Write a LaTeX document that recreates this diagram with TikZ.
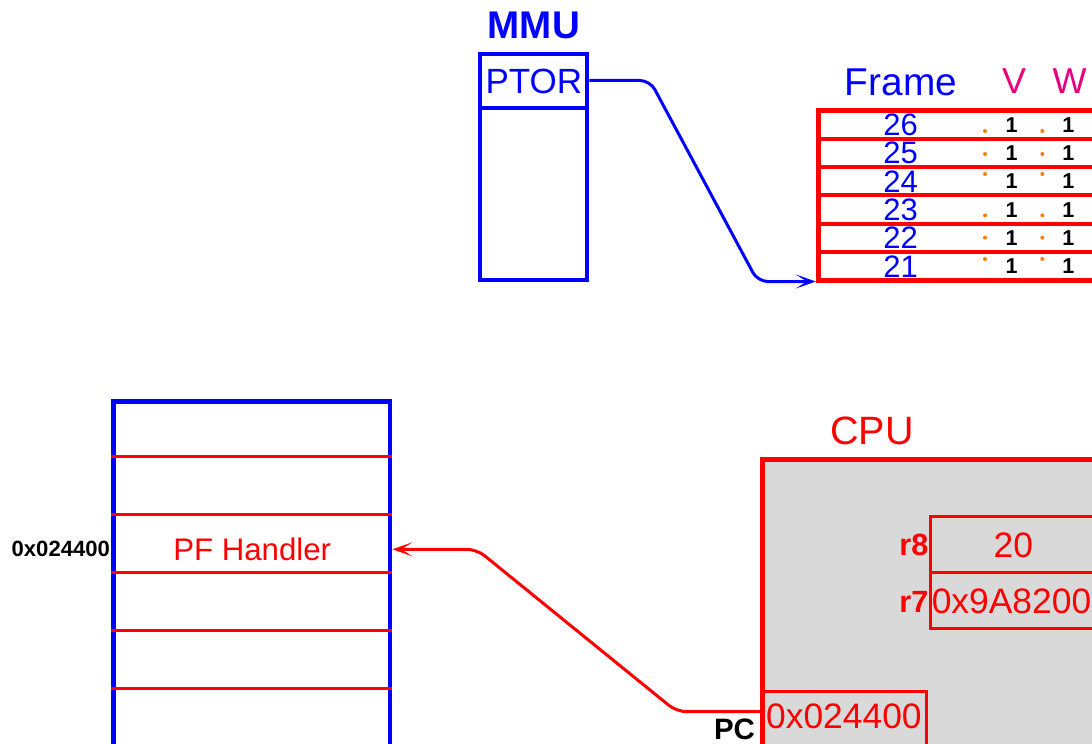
\documentclass[tikz,border=0pt]{standalone}
\usepackage{fontspec}
\setmainfont{Liberation Sans}
\usetikzlibrary{arrows.meta}
\definecolor{myblue}{RGB}{0,0,255}
\definecolor{myred}{RGB}{255,0,0}
\definecolor{mypink}{RGB}{230,0,126}
\definecolor{myorange}{RGB}{255,128,0}
\definecolor{cpugray}{RGB}{217,217,217}
\newcommand{\myfs}[1]{\fontsize{#1bp}{#1bp}\selectfont}
\begin{document}
\begin{tikzpicture}[x=1bp,y=-1bp,
  txt/.style={inner sep=0pt, outer sep=0pt},
  box/.style={draw, inner sep=0pt, anchor=north west},
  bluebox/.style={box, draw=myblue},
  redbox/.style={box, draw=myred},
  tip/.style={-{Stealth[length=20bp,width=14bp,inset=11bp]}},
  bluearrow/.style={tip, draw=myblue, line width=3bp, rounded corners=10bp},
  redarrow/.style={tip, draw=myred, line width=3bp, rounded corners=10bp},
  rowline/.style={draw=myred, line width=4bp},
  memline/.style={draw=myred, line width=3.5bp},
  framenum/.style={txt, text=myblue, font=\myfs{31}},
  bitval/.style={txt, text=black, font=\bfseries\myfs{21.5}},
  bitdot/.style={circle, fill=myorange, inner sep=0pt, minimum size=4bp},
  head/.style={txt, font=\myfs{38.8}},
  reglabel/.style={txt, text=myred, font=\bfseries\myfs{30.7}, anchor=east},
  regval/.style={txt, text=myred, font=\myfs{35.4}}
]
\useasboundingbox (0,0) rectangle (1092,744);
\clip (0,0) rectangle (1092,744);

% ---------- MMU ----------
\node[txt, text=myblue, font=\bfseries\myfs{38.6}] (mmulbl) at (533.8,25.5) {MMU};
\node[bluebox, line width=4bp, minimum width=107bp, minimum height=54bp] (ptor) at (478.3,52.3) {};
\node[txt, text=myblue, font=\myfs{35}] (ptortxt) at (ptor.center) {PTOR};
\node[bluebox, line width=4bp, minimum width=107bp, minimum height=171.4bp] (mmubody) at (478.3,106.3) {};

% ---------- Page table ----------
\node[head, text=myblue] (framehd) at (901,82.5) {Frame};
\node[head, text=mypink, font=\myfs{36}] (vhd) at (1014,81.3) {V};
\node[head, text=mypink, font=\myfs{36}] (whd) at (1069.5,81.3) {W};
\node[redbox, line width=5bp, minimum width=320bp, minimum height=170bp] (pt) at (815.8,108) {};
\foreach \i in {1,...,5}{
  \draw[rowline] (pt.west |- 0,{110.5+28.33*\i}) -- (pt.east |- 0,{110.5+28.33*\i});
}
\foreach \n/\yc/\yd in {26/124.7/131,25/153.0/154,24/181.3/174,23/209.7/215.3,22/238.0/237.7,21/266.3/259}{
  \node[framenum] (f\n) at (900.7,\yc) {\n};
  \node[bitval] (v\n) at (1011.7,\yc) {1};
  \node[bitval] (w\n) at (1068.3,\yc) {1};
  \node[bitdot] (dv\n) at (985,\yd) {};
  \node[bitdot] (dw\n) at (1042.3,\yd) {};
}

% PTOR -> page table
\coordinate (b1) at (650,80.5);
\coordinate (b2) at (757.7,281.5);
\draw[bluearrow] (ptor.east |- b1) -- (b1) -- (b2) -- (pt.west |- b2);

% ---------- Memory ----------
\node[bluebox, line width=4.7bp, minimum width=276.7bp, minimum height=400bp] (mem) at (111,399.3) {};
\foreach \y in {456.7,514.7,572.7,630.7,688.7}{
  \draw[memline] (mem.west |- 0,\y) -- (mem.east |- 0,\y);
}
\node[txt, text=myred, font=\myfs{31.2}] (pf) at (252.2,549.5) {PF Handler};
\node[txt, text=black, font=\bfseries\myfs{22.1}, anchor=east] (addr) at (110,548.7) {0x024400};

% ---------- CPU ----------
\node[txt, text=myred, font=\myfs{39.5}] (cpulbl) at (872,431.3) {CPU};
\node[redbox, fill=cpugray, line width=5bp, minimum width=400bp, minimum height=320bp] (cpu) at (759.5,457) {};
\node[redbox, line width=3bp, minimum width=200bp, minimum height=56bp] (r8) at (928.5,515.2) {};
\node[redbox, line width=3bp, minimum width=200bp, minimum height=56bp] (r7) at (928.5,571.2) {};
\node[reglabel] (r8lbl) at (r8.west) {r8};
\node[reglabel] (r7lbl) at ([yshift=-1.5bp]r7.west) {r7};
\node[regval] (r8val) at (1013.3,545) {20};
\node[regval, anchor=west] (r7val) at (931.8,601.7) {0x9A8200};
\node[redbox, line width=3bp, minimum width=164.8bp, minimum height=70bp] (pc) at (760.5,690) {};
\node[regval] (pcval) at (843.9,716) {0x024400};
\node[txt, text=black, font=\bfseries\myfs{29.5}] (pclbl) at (734.5,729) {PC};

% PC -> PF Handler
\coordinate (r1) at (676.7,711.7);
\coordinate (r2) at (476.7,549.3);
\draw[redarrow] (pc.west |- r1) -- (r1) -- (r2) -- (mem.east |- r2);
\end{tikzpicture}
\end{document}
